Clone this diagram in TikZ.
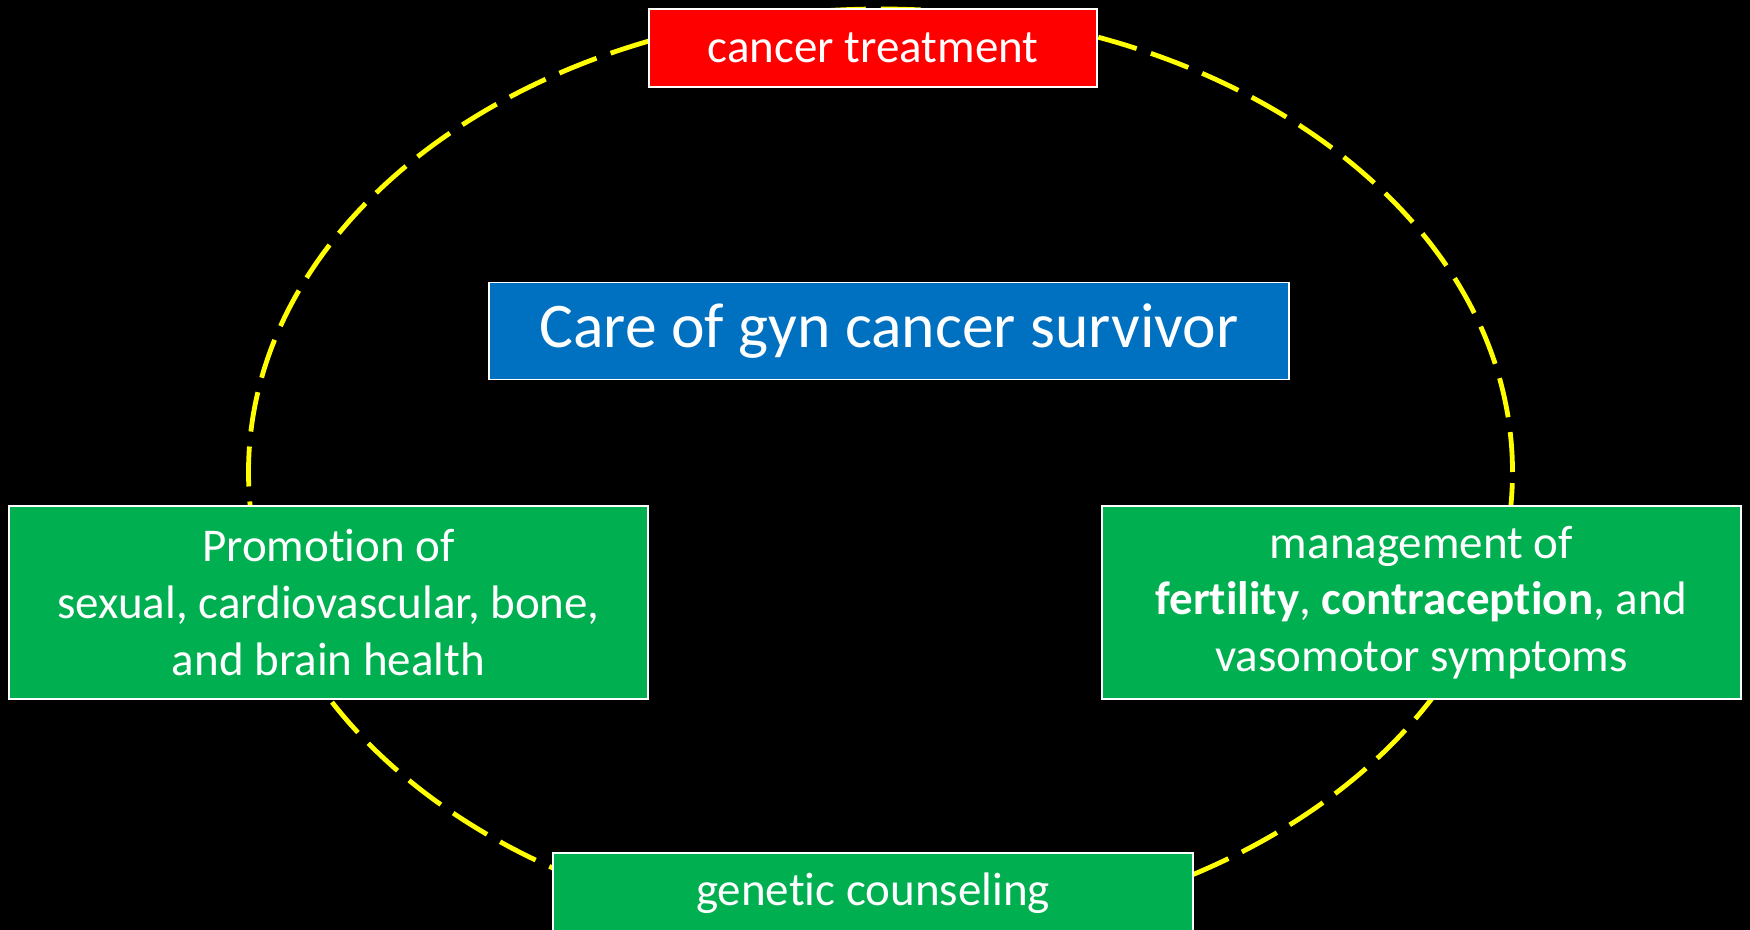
\documentclass[tikz,border=0pt]{standalone}
\usepackage{fontspec}
\setmainfont{Carlito}[Ligatures={NoCommon}]
\definecolor{redbox}{HTML}{FF0000}
\definecolor{bluebox}{HTML}{0070C0}
\definecolor{greenbox}{HTML}{00B050}
\definecolor{ringyellow}{HTML}{FFFF00}
\tikzset{
  panel/.style={draw=white, line width=0.75pt, text=white, inner sep=0pt, align=center,
    font=\fontsize{23.5}{28.3}\selectfont},
  ring/.style={draw=ringyellow, line width=2.4pt, dash pattern=on 20pt off 7.5pt}
}
\begin{document}
\begin{tikzpicture}[x=0.5pt,y=-0.5pt]
\fill[black] (0,0) rectangle (1750,930);
\useasboundingbox (0,0) rectangle (1750,930);
\coordinate (c) at (880.5,472);
\draw[ring] (c) ellipse [x radius=316pt, y radius=231.5pt];
\node[panel, fill=redbox, minimum width=224pt, minimum height=39pt] (treat) at (873,48) {cancer treatment};
\node[panel, fill=bluebox, minimum width=400pt, minimum height=48.5pt,
  font=\fontsize{31.8}{38}\selectfont] (care) at (889,331) {Care of gyn cancer survivor};
\node[panel, fill=greenbox, minimum width=319.5pt, minimum height=96.5pt] (promo) at (328.5,602.5)
  {Promotion of\\sexual, cardiovascular, bone,\\and brain health};
\node[panel, fill=greenbox, minimum width=319.5pt, minimum height=96.5pt] (manage) at (1421.5,602.5)
  {management of\\\textbf{fertility}, \textbf{contraception}, and\\vasomotor symptoms};
\node[panel, fill=greenbox, minimum width=320pt, minimum height=40pt] (genetic) at (873,893) {genetic counseling};
\end{tikzpicture}
\end{document}
